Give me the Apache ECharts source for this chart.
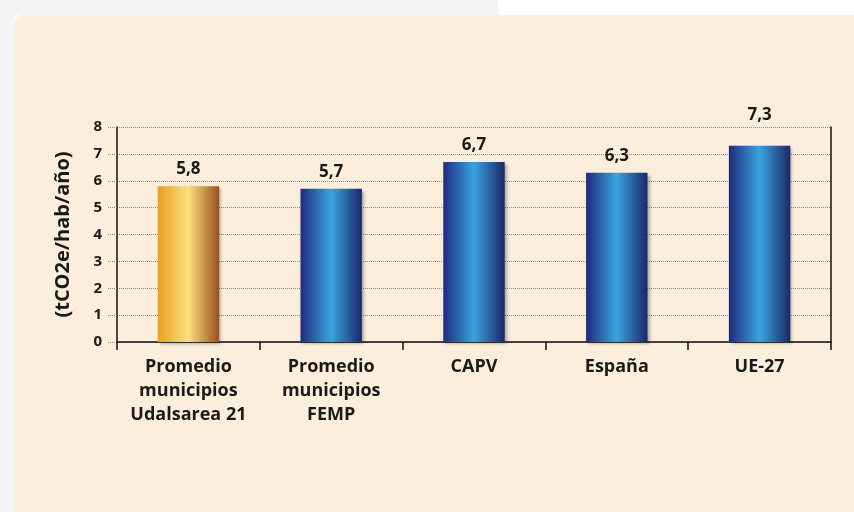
<!DOCTYPE html>
<html>
<head>
<meta charset="utf-8">
<script src="https://cdn.jsdelivr.net/npm/echarts@6/dist/echarts.min.js"></script>
<style>html,body{margin:0;padding:0;background:#fff}#c{width:854px;height:512px}</style>
</head>
<body>
<div id="c"></div>
<script>
const categories = ['Promedio\nmunicipios\nUdalsarea 21', 'Promedio\nmunicipios\nFEMP', 'CAPV', 'España', 'UE-27'];
const values = [5.8, 5.7, 6.7, 6.3, 7.3];
const valueLabels = ['5,8', '5,7', '6,7', '6,3', '7,3'];
const yAxisName = '(tCO2e/hab/año)';

const gold = {type:'linear',x:0,y:0,x2:1,y2:0,colorStops:[
  {offset:0,color:'#e9a11e'},{offset:0.5,color:'#f9e07e'},{offset:1,color:'#9c4f1e'}]};
const blue = {type:'linear',x:0,y:0,x2:1,y2:0,colorStops:[
  {offset:0,color:'#1f2b7e'},{offset:0.5,color:'#3aa4e0'},{offset:1,color:'#1b2668'}]};

const chart = echarts.init(document.getElementById('c'));
const font = 'Open Sans, Noto Sans, sans-serif';
const ink = '#1a1a1a';
chart.setOption({
  backgroundColor:'#ffffff',
  textStyle:{fontFamily:font},
  graphic:[
    {type:'rect',z:-10,shape:{x:0,y:0,width:498,height:15},style:{fill:'#f4f4f4'},silent:true},
    {type:'rect',z:-10,shape:{x:0,y:0,width:14,height:512},style:{fill:'#f5f5f7'},silent:true},
    {type:'rect',z:-9,shape:{x:14,y:15,width:840,height:497,r:[10,0,0,0]},style:{fill:'#fbeedc'},silent:true}
  ],
  grid:{left:117,right:23,top:127,bottom:170},
  xAxis:{
    type:'category',
    data:categories,
    axisLine:{show:true,lineStyle:{color:'#111',width:1.5}},
    axisTick:{show:true,length:8,inside:false,lineStyle:{color:'#111',width:1.5}},
    axisLabel:{color:ink,fontWeight:'bold',fontSize:18,lineHeight:24,margin:13,interval:0,fontFamily:font}
  },
  yAxis:[{
    type:'value',min:0,max:8,interval:1,
    name:yAxisName,nameLocation:'middle',nameGap:44,nameRotate:90,
    nameTextStyle:{color:ink,fontWeight:'bold',fontSize:20,fontFamily:font},
    axisLine:{show:true,lineStyle:{color:'#111',width:1.5}},
    axisTick:{show:true,length:9,lineStyle:{color:'#888',type:'dotted',width:1}},
    axisLabel:{color:ink,fontWeight:'bold',fontSize:15,margin:15,fontFamily:font},
    splitLine:{show:true,lineStyle:{color:'#888',type:'dotted',width:1}}
  },{
    type:'value',min:0,max:8,interval:1,position:'right',
    axisLine:{show:true,lineStyle:{color:'#111',width:1.5}},
    axisTick:{show:false},axisLabel:{show:false},splitLine:{show:false}
  }],
  series:[{
    type:'bar',
    barWidth:'43%',
    data:values.map((v,i)=>({value:v,itemStyle:{color:i===0?gold:blue},
      label:{distance:i===4?22:8}})),
    itemStyle:{shadowBlur:3,shadowOffsetX:2,shadowOffsetY:2,shadowColor:'rgba(0,0,0,0.3)'},
    label:{show:true,position:'top',color:ink,fontWeight:'bold',fontSize:17,fontFamily:font,
      formatter:p=>valueLabels[p.dataIndex]},
    animation:false
  }],
  animation:false
});
</script>
</body>
</html>
